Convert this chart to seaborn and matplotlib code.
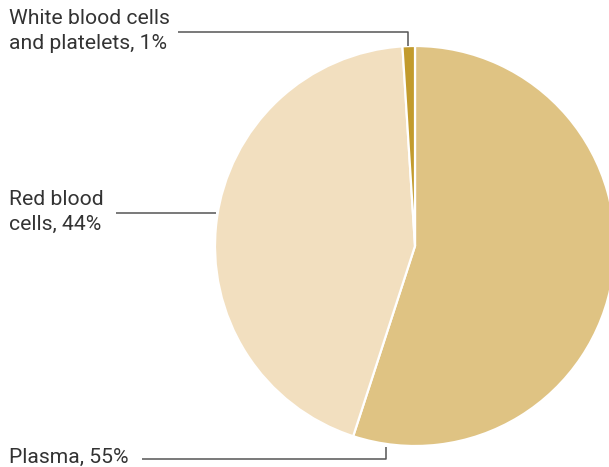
import matplotlib
matplotlib.use("Agg")
import matplotlib.pyplot as plt
import seaborn as sns

# blood composition (clockwise from 12 o'clock)
components = ["Plasma", "Red blood cells", "White blood cells and platelets"]
shares = [55, 44, 1]
label_texts = ["Plasma, 55%", "Red blood\ncells, 44%", "White blood cells\nand platelets, 1%"]
colors = ["#DFC383", "#F2DFBF", "#C29B2D"]

sns.set_theme(style="white")
plt.rcParams['font.family'] = ['Roboto', 'DejaVu Sans']

W, H = 609, 467
fig = plt.figure(figsize=(W / 100, H / 100), dpi=100)
ax = fig.add_axes([0, 0, 1, 1])

# y axis is flipped (pixel style), so counterclock=True draws clockwise on screen
ax.pie(shares, colors=colors, center=(415, 246), radius=200,
       startangle=-90, counterclock=True,
       wedgeprops=dict(edgecolor="white", linewidth=1.6))

ax.set_xlim(0, W)
ax.set_ylim(H, 0)
ax.set_aspect("equal")
ax.axis("off")

txt = dict(fontsize=15.2, color="#333333", linespacing=1.4)
line = dict(color="#555555", linewidth=1.1, solid_capstyle="butt")

# white blood cells
ax.text(9, 9, label_texts[2], va="top", ha="left", **txt)
ax.plot([178, 408, 408], [32, 32, 46], **line)

# red blood cells
ax.text(9, 190, label_texts[1], va="top", ha="left", **txt)
ax.plot([116, 216], [213, 213], **line)

# plasma
ax.text(9, 448, label_texts[0], va="top", ha="left", **txt)
ax.plot([142, 386, 386], [459, 459, 447], **line)

fig.savefig("out.png", dpi=100)
